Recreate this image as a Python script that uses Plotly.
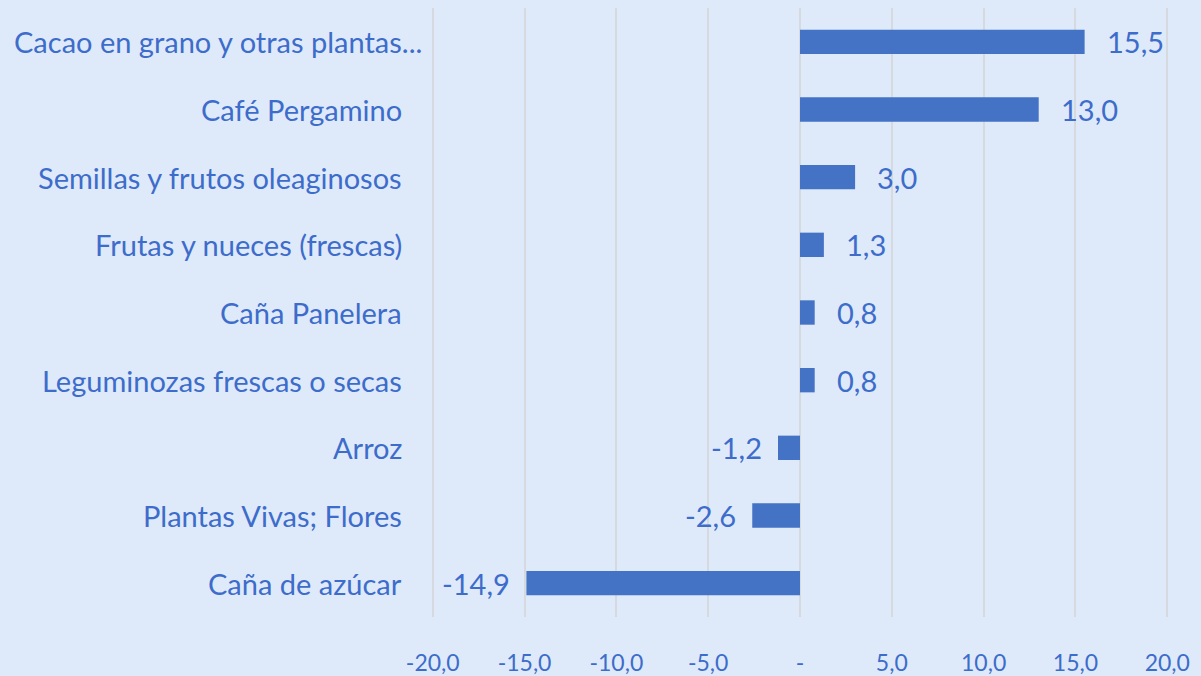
import plotly.graph_objects as go

categories = ["Cacao en grano y otras plantas...", "Café Pergamino", "Semillas y frutos oleaginosos",
              "Frutas y nueces (frescas)", "Caña Panelera", "Leguminozas frescas o secas",
              "Arroz", "Plantas Vivas; Flores", "Caña de azúcar"]
values = [15.5, 13.0, 3.0, 1.3, 0.8, 0.8, -1.2, -2.6, -14.9]
tick_vals = [-20, -15, -10, -5, 0, 5, 10, 15, 20]
tick_text = ["-20,0", "-15,0", "-10,0", "-5,0", "-", "5,0", "10,0", "15,0", "20,0"]

BAR = "#4472C4"
TXT = "#3D6CCB"
BG = "#DEEAF9"
GRID = "#D6D9DE"
FONT = "Lato"

def fmt(v):
    return f"{v:.1f}".replace(".", ",")

fig = go.Figure(go.Bar(
    x=values, y=categories, orientation="h",
    marker=dict(color=BAR, line=dict(width=0)),
    width=0.36,
))

# value labels
for c, v in zip(categories, values):
    fig.add_annotation(x=v, y=c, text=fmt(v), showarrow=False,
                       xanchor="left" if v >= 0 else "right",
                       xshift=20 if v >= 0 else -14,
                       font=dict(family=FONT, size=29, color=TXT))

# category labels (right aligned left of the plot area; truncated label overflows like the original)
for c in categories:
    fig.add_annotation(xref="paper", x=0, y=c, text=c, showarrow=False,
                       xanchor="right", xshift=-6 if c.endswith("...") else -26,
                       font=dict(family=FONT, size=29, color=TXT))

fig.update_layout(
    width=1201, height=676,
    paper_bgcolor=BG, plot_bgcolor=BG,
    margin=dict(l=430, r=31, t=8, b=59),
    showlegend=False,
    font=dict(family=FONT, size=28, color=TXT),
)
fig.update_xaxes(range=[-20.15, 20.15], tickvals=tick_vals, ticktext=tick_text,
                 showgrid=True, gridcolor=GRID, gridwidth=2,
                 zeroline=True, zerolinecolor=GRID, zerolinewidth=2,
                 ticklabelstandoff=30, tickfont=dict(family=FONT, size=23, color=TXT),
                 showline=False, fixedrange=True, automargin=False)
fig.update_yaxes(categoryorder="array", categoryarray=categories[::-1],
                 showticklabels=False, automargin=False,
                 showgrid=False, showline=False, fixedrange=True)

fig.write_html("out.html", config={"displayModeBar": False},
               post_script="document.body.style.margin='0';document.body.style.background='%s';" % BG)
